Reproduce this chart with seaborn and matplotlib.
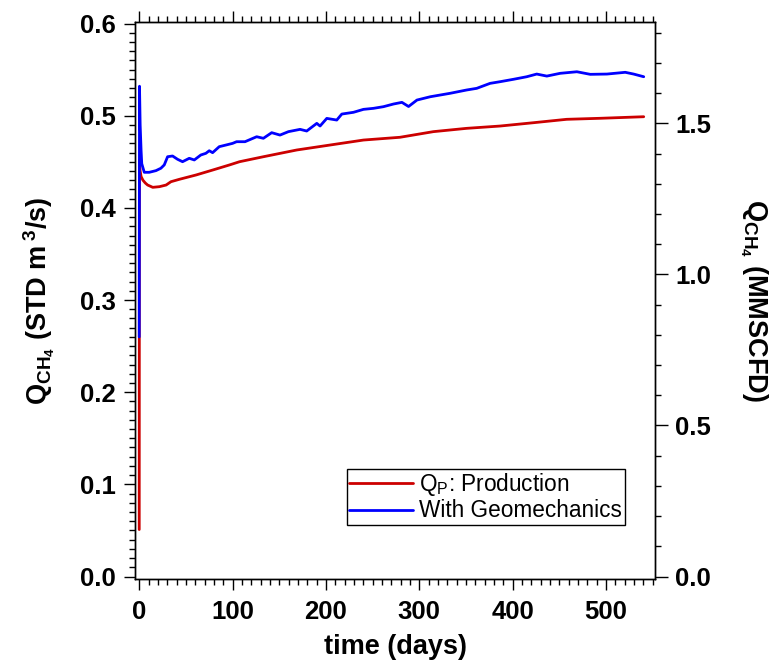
import numpy as np
import pandas as pd
import matplotlib
matplotlib.use("Agg")
import matplotlib.pyplot as plt
from matplotlib.ticker import MultipleLocator
import seaborn as sns

# Production rate (STD m^3/s) versus time (days)
prod_days = [0.0, 0.2, 1.0, 2.0, 4.0, 6.5, 9.0, 14.5, 21.6, 28.8, 34.0, 43.0, 60.9,
             78.8, 96.7, 107.5, 133.0, 168.7, 204.4, 240.2, 279.3, 315.0, 350.7,
             386.5, 422.2, 457.9, 493.7, 540.4]
prod_rate = [0.051, 0.452, 0.440, 0.434, 0.430, 0.427, 0.4248, 0.4223, 0.4230, 0.4248,
             0.4284, 0.4310, 0.4357, 0.4411, 0.4466, 0.4501, 0.4555, 0.4628, 0.4682,
             0.4736, 0.4766, 0.4827, 0.4863, 0.4888, 0.4924, 0.4961, 0.4972, 0.4989]

# Production rate with geomechanics coupling
geo_days = [0.0, 0.3, 1.0, 2.0, 2.7, 5.4, 10.7, 17.9, 23.2, 26.8, 30.4, 35.7, 41.1,
            46.4, 53.6, 59.0, 66.0, 71.4, 75.0, 78.6, 85.7, 92.9, 100.0, 104.3,
            113.3, 125.8, 133.0, 141.9, 150.8, 159.8, 172.3, 179.4, 190.2, 193.7,
            200.9, 211.6, 217.0, 229.5, 240.2, 250.9, 261.6, 272.4, 281.4, 288.5,
            297.5, 311.8, 332.9, 350.7, 361.5, 375.8, 386.5, 400.8, 415.1, 425.8,
            436.6, 450.9, 468.8, 483.1, 501.0, 520.6, 529.6, 540.4]
geo_rate = [0.260, 0.532, 0.490, 0.462, 0.448, 0.4386, 0.4386, 0.4404, 0.4430, 0.4466,
            0.4555, 0.4563, 0.4527, 0.4501, 0.4538, 0.4520, 0.4574, 0.4592, 0.4620,
            0.4599, 0.4664, 0.4682, 0.4700, 0.4718, 0.4718, 0.4772, 0.4755, 0.4816,
            0.4790, 0.4827, 0.4852, 0.4834, 0.4917, 0.4888, 0.4971, 0.4953, 0.5018,
            0.5037, 0.5069, 0.5080, 0.5098, 0.5127, 0.5145, 0.5100, 0.5170, 0.5206,
            0.5243, 0.5279, 0.5297, 0.5351, 0.5369, 0.5395, 0.5423, 0.5452, 0.5430,
            0.5460, 0.5477, 0.5449, 0.5452, 0.5471, 0.5452, 0.5423]

labels = [r"$\mathregular{Q_P}$: Production", "With Geomechanics"]
colors = ["#cc0000", "#0000ff"]
x_ticks = [0, 100, 200, 300, 400, 500]
left_ticks = [0.0, 0.1, 0.2, 0.3, 0.4, 0.5, 0.6]
right_ticks = [0.0, 0.5, 1.0, 1.5]
M3S_TO_MMSCFD = 86400 * 35.3147 / 1e6

sns.set_theme(style="ticks")
plt.rcParams["font.family"] = ["Liberation Sans", "DejaVu Sans"]
plt.rcParams.update({
    "axes.linewidth": 1.0,
    "axes.edgecolor": "black",
    "axes.labelcolor": "black",
    "text.color": "black",
    "xtick.color": "black",
    "ytick.color": "black",
})

fig = plt.figure(figsize=(7.76, 6.66), dpi=100)
ax = fig.add_axes([0.1740, 0.1302, 0.6707, 0.8372])

df_prod = pd.DataFrame({"days": prod_days, "rate": prod_rate})
df_geo = pd.DataFrame({"days": geo_days, "rate": geo_rate})
sns.lineplot(data=df_prod, x="days", y="rate", ax=ax, color=colors[0], lw=2.0,
             sort=False, estimator=None, label=labels[0])
sns.lineplot(data=df_geo, x="days", y="rate", ax=ax, color=colors[1], lw=2.0,
             sort=False, estimator=None, label=labels[1])

ax.set_xlim(-4.5, 553)
ax.set_ylim(-0.003, 0.602)
ax.set_xticks(x_ticks)
ax.set_yticks(left_ticks)
ax.set_yticklabels([f"{v:.1f}" for v in left_ticks])
ax.xaxis.set_minor_locator(MultipleLocator(10))
ax.yaxis.set_minor_locator(MultipleLocator(0.01))
ax.tick_params(axis="both", which="major", labelsize=18.5, length=8, width=1.0,
               direction="out")
ax.tick_params(axis="both", which="minor", length=4, width=1.0, direction="out")
ax.tick_params(axis="x", which="both", top=True, pad=7)
ax.tick_params(axis="y", which="both", right=False, pad=6)
for lab in ax.get_xticklabels() + ax.get_yticklabels():
    lab.set_fontweight("bold")

ax.set_xlabel("time (days)", fontsize=19.5, fontweight="bold", labelpad=7)
ax.set_ylabel(r"$\mathregular{Q_{CH_4}}$ (STD m$\mathregular{\,^3}$/s)", fontsize=19.5,
              fontweight="bold", labelpad=16)

ax2 = ax.twinx()
ax2.set_ylim(np.array(ax.get_ylim()) * M3S_TO_MMSCFD)
ax2.set_yticks(right_ticks)
ax2.set_yticklabels([f"{v:.1f}" for v in right_ticks])
ax2.yaxis.set_minor_locator(MultipleLocator(0.1))
ax2.tick_params(axis="y", which="major", labelsize=18.5, length=9, width=1.0,
                direction="out", pad=5)
ax2.tick_params(axis="y", which="minor", length=4, width=1.0, direction="out")
for lab in ax2.get_yticklabels():
    lab.set_fontweight("bold")
ax2.set_ylabel(r"$\mathregular{Q_{CH_4}}$ (MMSCFD)", fontsize=19.5, fontweight="bold",
               rotation=270, labelpad=42)

leg = ax.legend(loc="lower right", bbox_to_anchor=(0.941, 0.097), fontsize=16.3,
                frameon=True, fancybox=False, edgecolor="black", framealpha=1,
                handlelength=2.8, handletextpad=0.28, borderpad=0.12,
                labelspacing=0.05, borderaxespad=0)
leg.get_frame().set_linewidth(1.0)

fig.savefig("out.png", dpi=100)
